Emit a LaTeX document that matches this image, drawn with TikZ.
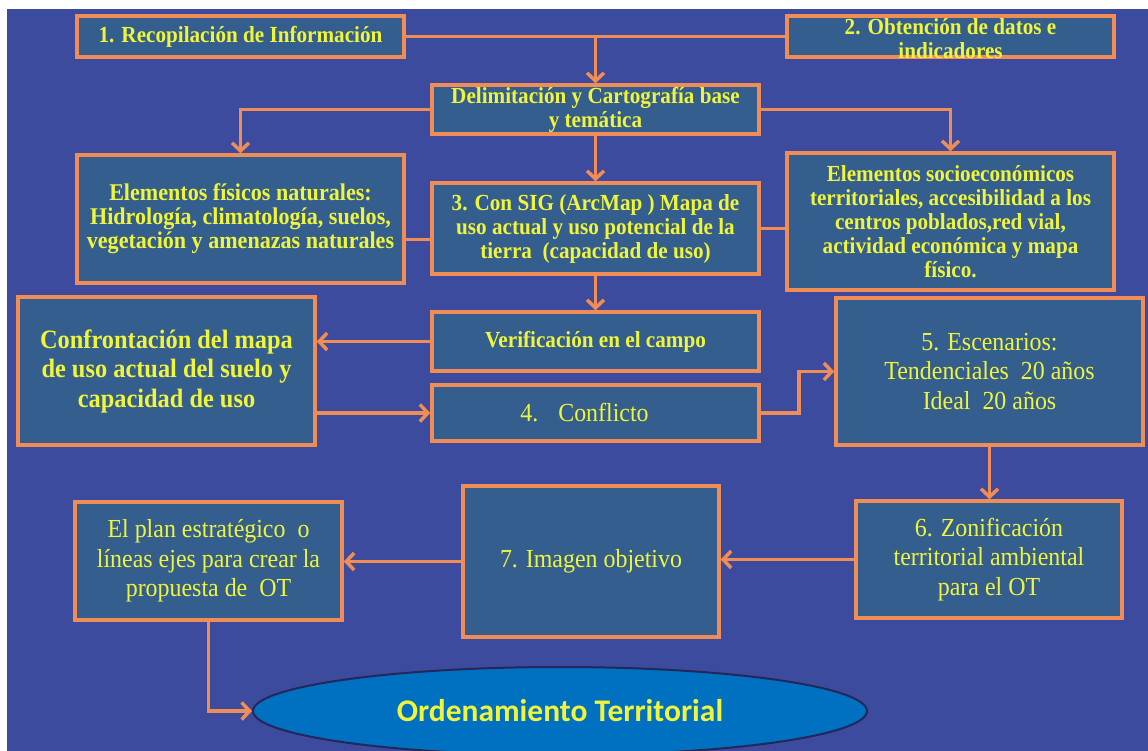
\documentclass[tikz,border=0pt]{standalone}
\usepackage{fontspec}
\setmainfont{Liberation Serif}
\newfontfamily\condserif[FakeStretch=0.92]{Liberation Serif}
\newfontfamily\carlito{Carlito}
\usetikzlibrary{arrows.meta,shapes.geometric}
\definecolor{bgblue}{RGB}{60,75,158}
\definecolor{boxblue}{RGB}{52,94,142}
\definecolor{orng}{RGB}{240,140,85}
\definecolor{ylw}{RGB}{240,245,60}
\definecolor{ellblue}{RGB}{0,112,192}
\definecolor{elledge}{RGB}{35,40,90}
\newcommand\mybox[7]{\node[box,#6,minimum width={#4-#2},minimum height={#5-#3}] (#1) at ({(#2+#4)/2},{(#3+#5)/2}) {#7};}
\tikzset{
  box/.style={draw=orng, line width=3.5pt, fill=boxblue, text=ylw, align=center, inner sep=0pt},
  bsmall/.style={font=\condserif\bfseries\fontsize{23}{24}\selectfont},
  bfis/.style={font=\condserif\bfseries\fontsize{24}{24}\selectfont},
  bbig/.style={font=\condserif\bfseries\fontsize{26.5}{29.5}\selectfont},
  rbig/.style={font=\condserif\fontsize{26}{29.5}\selectfont},
  con/.style={draw=orng, line width=3.5pt},
  arr/.style={con, -{Straight Barb[length=8pt,width=17pt]}},
}
\begin{document}
\begin{tikzpicture}[x=1pt,y=-1pt]
\useasboundingbox (0,0) rectangle (1148,751);
\clip (0,0) rectangle (1148,751);
\fill[white] (0,0) rectangle (1148,751);
\fill[bgblue] (7,9) rectangle (1148,751);

\mybox{r1}{77}{16}{404}{57}{bsmall}{1. Recopilación de Información}
\mybox{r2}{787}{16}{1114}{57}{}{}
\node[text=ylw, align=center, bsmall, inner sep=0pt] (r2t) at ([yshift=-2pt]r2.center) {2. Obtención de datos e\\indicadores};
\mybox{del}{432}{85}{759}{134}{bsmall}{Delimitación y Cartografía base\\y temática}
\mybox{fis}{77}{155}{404}{283}{bfis}{Elementos físicos naturales:\\Hidrología, climatología, suelos,\\vegetación y amenazas naturales}
\mybox{sig}{432}{183}{759}{274}{bsmall}{3. Con SIG (ArcMap ) Mapa de\\uso actual y uso potencial de la\\tierra~ (capacidad de uso)}
\mybox{soc}{787}{153}{1114}{290}{bsmall}{Elementos socioeconómicos\\territoriales, accesibilidad a los\\centros poblados,red vial,\\actividad económica y mapa\\físico.}
\mybox{cfr}{18}{297}{315}{445}{bbig}{Confrontación del mapa\\de uso actual del suelo y\\capacidad de uso}
\mybox{ver}{432}{312}{759}{371}{bsmall}{Verificación en el campo}
\mybox{cfl}{432}{385}{759}{441}{rbig}{4.\hspace{20pt}Conflicto\hspace*{22pt}}
\mybox{esc}{836}{298}{1143}{445}{rbig}{5. Escenarios:\\Tendenciales~ 20 años\\Ideal~ 20 años}
\mybox{zon}{856}{501}{1122}{618}{rbig}{6. Zonificación\\territorial ambiental\\para el OT}
\mybox{img}{463}{486}{719}{637}{rbig}{7. Imagen objetivo}
\mybox{pln}{75}{502}{342}{620}{rbig}{El plan estratégico~ o\\líneas ejes para crear la\\propuesta de~ OT}
\node[ellipse, draw=elledge, line width=2pt, fill=ellblue, minimum width=614, minimum height=88, inner sep=0pt, text=ylw, font=\carlito\bfseries\fontsize{31.5}{36}\selectfont] (ell) at (560,711) {Ordenamiento Territorial};

\draw[con] (r1.east) -- (r2.west);
\draw[arr] (r1.east -| del.north) -- (del.north);
\draw[arr] (del.west) -| (fis.north);
\draw[arr] (del.east) -| (soc.north);
\draw[arr] (del.south) -- (sig.north);
\path ([yshift=-11pt]sig.west) coordinate (fs);
\draw[con] (fs) -- (fs -| fis.east);
\draw[con] (sig.east) -- (sig.east -| soc.west);
\draw[arr] (sig.south) -- (ver.north);
\draw[arr] (ver.west) -- (ver.west -| cfr.east);
\draw[arr] (cfr.east |- cfl.west) -- (cfl.west);
\draw[arr] (cfl.east) -- ++(38,0) |- (esc.west);
\draw[arr] (esc.south) -- (esc.south |- zon.north);
\draw[arr] (zon.west) -- (zon.west -| img.east);
\draw[arr] (img.west) -- (img.west -| pln.east);
\draw[arr] (pln.south) |- (ell.west);
\end{tikzpicture}
\end{document}
